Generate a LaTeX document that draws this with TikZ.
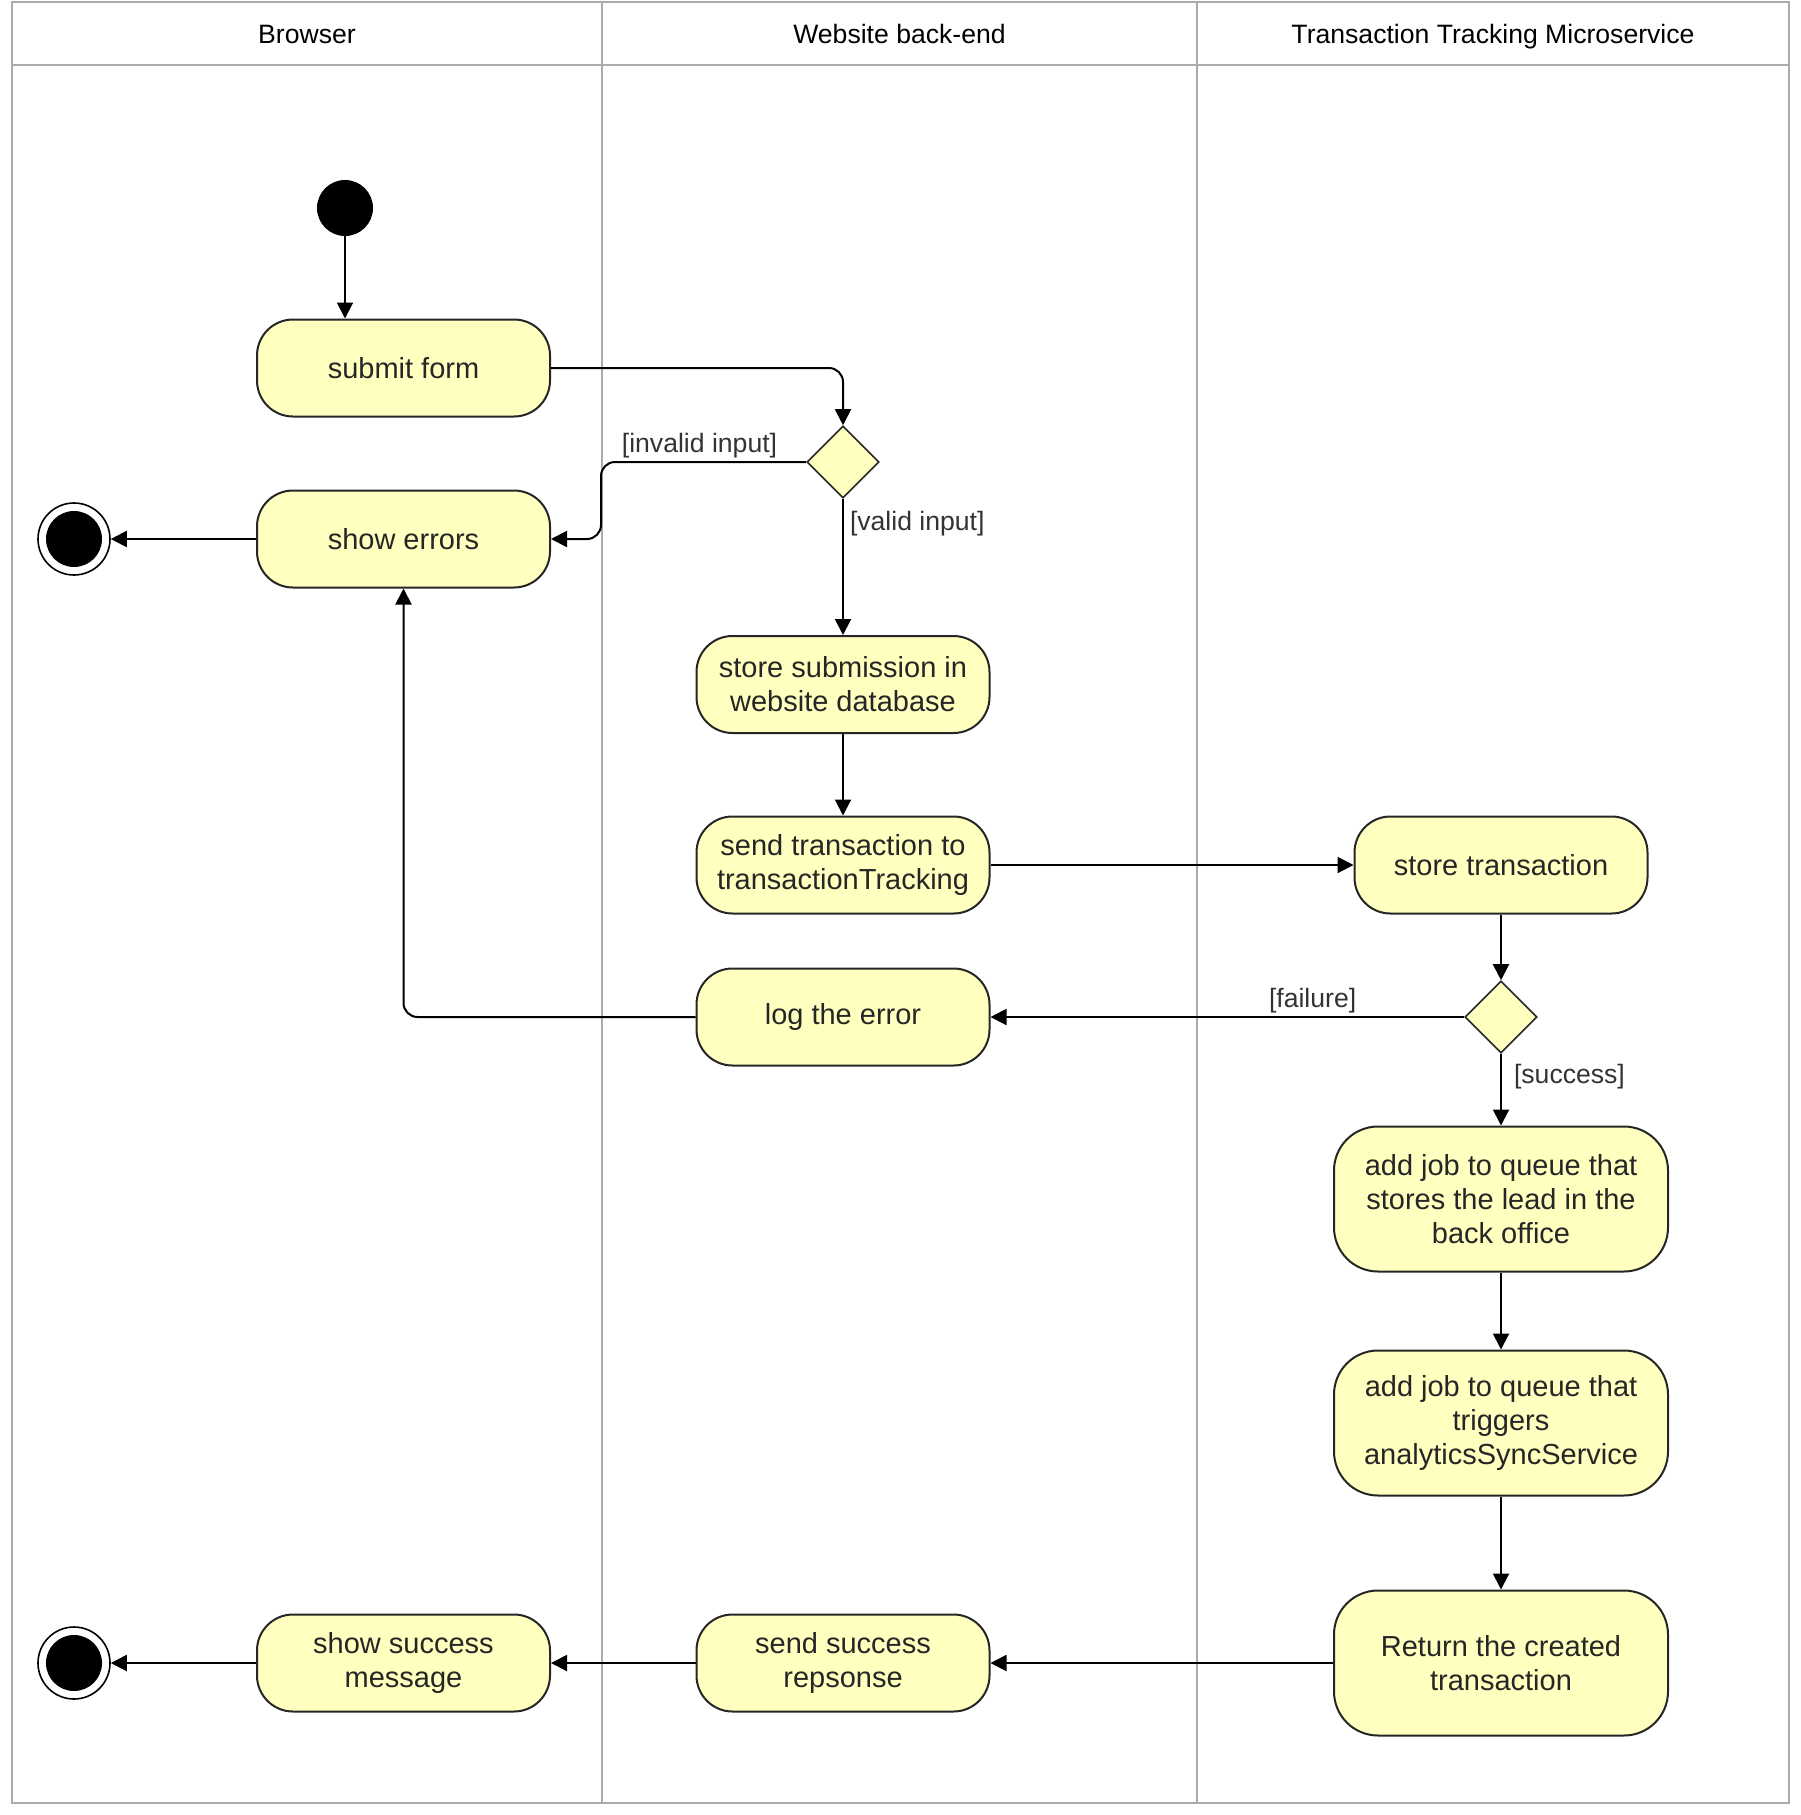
\documentclass[tikz,border=0pt]{standalone}
\usepackage{fontspec}
\setmainfont{Liberation Sans}
\usetikzlibrary{arrows.meta,shapes.geometric}
\definecolor{actfill}{HTML}{FFFFC0}
\definecolor{lanegray}{HTML}{ABABAB}
\begin{document}
\begin{tikzpicture}[x=1pt,y=-1pt,
  act/.style={draw=black!85,fill=actfill,rounded corners=36pt,line width=2pt,minimum width=293pt,minimum height=97pt,align=center,font=\fontsize{29}{34}\selectfont,text=black!85},
  bigact/.style={act,minimum width=334pt,minimum height=145pt,rounded corners=44pt},
  choice/.style={diamond,draw=black!85,fill=actfill,line width=1.6pt,minimum size=72pt,inner sep=0pt},
  initial/.style={circle,fill=black,minimum size=56pt,inner sep=0pt},
  final/.style={circle,draw=black,line width=1.6pt,fill=white,minimum size=72pt,inner sep=0pt,
    path picture={\fill[black] (path picture bounding box.center) circle (28pt);}},
  flow/.style={-{Triangle[length=16pt,width=16pt]},line width=2pt,rounded corners=14pt},
  guard/.style={font=\fontsize{26.6}{31}\selectfont,text=black!80,inner sep=3pt},
  header/.style={font=\fontsize{26.6}{31}\selectfont,anchor=base},
  lane/.style={draw=lanegray,line width=2pt}]
\useasboundingbox (0,0) rectangle (1800,1815);
\draw[lane] (11.6,2.3) rectangle (1788.5,1802.5);
\draw[lane] (11.6,64.8) -- (1788.5,64.8);
\foreach \x in {602,1197} \draw[lane] (\x,2.3) -- (\x,1802.5);
\node[header] (hbrowser) at (307,43) {Browser};
\node[header] (hsite) at (899.5,43) {Website back-end};
\node[header] (htrack) at (1493,43) {Transaction Tracking Microservice};

\node[initial] (start) at (345,208) {};
\node[act] (submit) at (403.5,368) {submit form};
\node[choice] (dec1) at (843,462) {};
\node[act] (errors) at (403.5,539) {show errors};
\node[final] (end1) at (74,539) {};
\node[act] (storesub) at (843,684.5) {store submission in\\website database};
\node[act] (sendtx) at (843,865) {send transaction to\\transactionTracking};
\node[act] (storetx) at (1501,865) {store transaction};
\node[choice] (dec2) at (1501,1017) {};
\node[act] (logerr) at (843,1017) {log the error};
\node[bigact] (job1) at (1501,1199) {add job to queue that\\stores the lead in the\\back office};
\node[bigact] (job2) at (1501,1423) {add job to queue that\\triggers\\analyticsSyncService};
\node[bigact] (ret) at (1501,1663) {Return the created\\transaction};
\node[act] (sendok) at (843,1663) {send success\\repsonse};
\node[act] (showok) at (403.5,1663) {show success\\message};
\node[final] (end2) at (74,1663) {};

\draw[flow] (start) -- (start |- submit.north);
\draw[flow] (submit.east) -| (dec1.north);
\draw[flow] (dec1.west) -| node[guard,pos=0.26,above] {[invalid input]} ([xshift=50pt]errors.east) -- (errors.east);
\draw[flow] (errors) -- (end1);
\draw[flow] (dec1.south) -- node[guard,pos=0.18,right,xshift=3pt] {[valid input]} (storesub.north);
\draw[flow] (storesub) -- (sendtx);
\draw[flow] (sendtx) -- (storetx);
\draw[flow] (storetx) -- (dec2.north);
\draw[flow] (dec2.west) -- node[guard,pos=0.32,above] {[failure]} (logerr.east);
\draw[flow] (logerr.west) -| (errors.south);
\draw[flow] (dec2.south) -- node[guard,pos=0.32,right,xshift=9pt] {[success]} (job1.north);
\draw[flow] (job1) -- (job2);
\draw[flow] (job2) -- (ret);
\draw[flow] (ret) -- (sendok);
\draw[flow] (sendok) -- (showok);
\draw[flow] (showok) -- (end2);
\end{tikzpicture}
\end{document}
